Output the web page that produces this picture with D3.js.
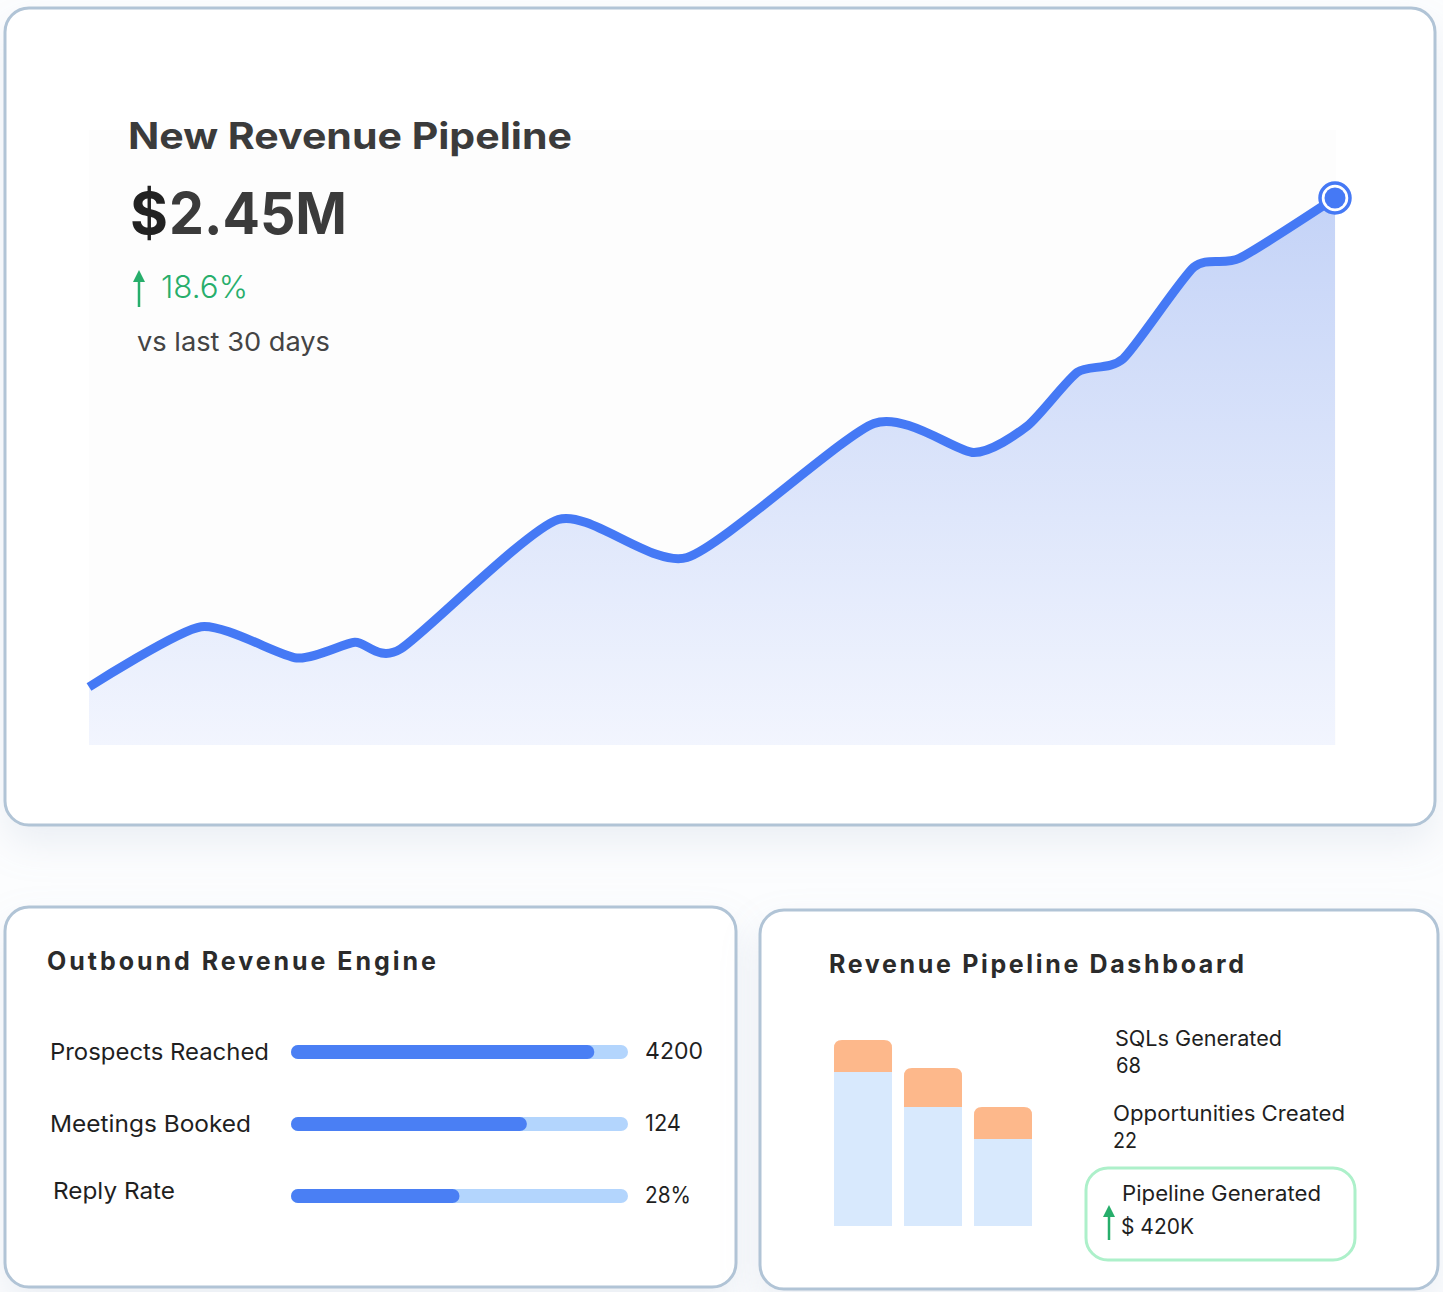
<!DOCTYPE html>
<html>
<head>
<meta charset="utf-8">
<style>
  html, body { margin: 0; padding: 0; background: #ffffff; }
  svg { display: block; font-family: Inter, "Open Sans", "DejaVu Sans", sans-serif; }
</style>
</head>
<body>
<div id="chart"></div>
<script src="https://d3js.org/d3.v7.min.js"></script>
<script>
  // pipeline over the last 30 days ($M)
  const days = [0, 2.7, 5.0, 6.4, 7.5, 11.3, 14.4, 18.9, 21.3, 22.6, 23.8, 24.9, 26.6, 27.7, 30];
  const pipeline = [0.26, 0.53, 0.39, 0.46, 0.43, 1.01, 0.84, 1.44, 1.31, 1.43, 1.67, 1.73, 2.14, 2.18, 2.45];

  // outbound engine
  const engineLabels = ['Prospects Reached', 'Meetings Booked', 'Reply Rate'];
  const engineValues = ['4200', '124', '28%'];
  const engineProgress = [0.9, 0.7, 0.5];

  // funnel bars
  const funnelStages = ['SQLs', 'Opportunities', 'Pipeline'];
  const funnelBase = [77, 59.5, 43.5];
  const funnelTop = [16, 19.5, 16];

  const W = 1443, H = 1292;
  const svg = d3.select('#chart').append('svg')
    .attr('width', W)
    .attr('height', H);

  const defs = svg.append('defs');

  const shadow = defs.append('filter').attr('id', 'shadow')
    .attr('x', '-10%').attr('y', '-10%').attr('width', '120%').attr('height', '130%');
  shadow.append('feDropShadow')
    .attr('dx', 0).attr('dy', 18).attr('stdDeviation', 18)
    .attr('flood-color', '#a8b8cc').attr('flood-opacity', 0.2);

  const grad = defs.append('linearGradient').attr('id', 'areaFill')
    .attr('gradientUnits', 'userSpaceOnUse')
    .attr('x1', 0).attr('y1', 198).attr('x2', 0).attr('y2', 745);
  grad.append('stop').attr('offset', '0%').attr('stop-color', '#c4d3f7');
  grad.append('stop').attr('offset', '100%').attr('stop-color', '#f2f5fe');

  // page tint
  svg.append('rect').attr('width', W).attr('height', H).attr('fill', '#fcfdfe');

  // cards
  const cards = [
    {x: 5, y: 8, w: 1430, h: 817},
    {x: 5, y: 907, w: 731, h: 380},
    {x: 760, y: 910, w: 678, h: 379}
  ];
  svg.selectAll('rect.card').data(cards).join('rect')
    .attr('class', 'card')
    .attr('x', d => d.x).attr('y', d => d.y)
    .attr('width', d => d.w).attr('height', d => d.h)
    .attr('rx', 24)
    .attr('fill', '#ffffff')
    .attr('stroke', '#b1c4d6')
    .attr('stroke-width', 3)
    .attr('filter', 'url(#shadow)');

  // ---------- top chart ----------
  const x = d3.scaleLinear().domain([0, 30]).range([89, 1335]);
  const y = d3.scaleLinear().domain([0, 2.45]).range([745, 198]);
  const pts = days.map((d, i) => [d, pipeline[i]]);

  svg.append('rect')
    .attr('x', 89).attr('y', 130).attr('width', 1247).attr('height', 615)
    .attr('fill', '#fdfdfd');

  const curve = d3.curveCardinal.tension(0.35);
  const area = d3.area()
    .x(d => x(d[0])).y0(745).y1(d => y(d[1]))
    .curve(curve);
  const line = d3.line()
    .x(d => x(d[0])).y(d => y(d[1]))
    .curve(curve);

  svg.append('path').datum(pts)
    .attr('d', area)
    .attr('fill', 'url(#areaFill)');

  svg.append('path').datum(pts)
    .attr('d', line)
    .attr('fill', 'none')
    .attr('stroke', '#4579f5')
    .attr('stroke-width', 9)
    .attr('stroke-linejoin', 'round');

  const last = pts[pts.length - 1];
  svg.append('circle')
    .attr('cx', x(last[0])).attr('cy', y(last[1])).attr('r', 15)
    .attr('fill', '#ffffff').attr('stroke', '#4579f5').attr('stroke-width', 3.5);
  svg.append('circle')
    .attr('cx', x(last[0])).attr('cy', y(last[1])).attr('r', 10.5)
    .attr('fill', '#4579f5');

  // headline texts
  svg.append('text')
    .attr('x', 128).attr('y', 149)
    .attr('font-size', 37).attr('font-weight', 700).attr('fill', '#3b3b3b')
    .attr('textLength', 444).attr('lengthAdjust', 'spacingAndGlyphs')
    .text('New Revenue Pipeline');

  svg.append('text')
    .attr('x', 130).attr('y', 234)
    .attr('font-size', 58).attr('font-weight', 700).attr('fill', '#222222')
    .text('$');
  svg.append('text')
    .attr('x', 169).attr('y', 234)
    .attr('font-size', 58).attr('font-weight', 700).attr('fill', '#3b3b3b')
    .attr('textLength', 178).attr('lengthAdjust', 'spacingAndGlyphs')
    .text('2.45M');

  // green arrow + change
  function upArrow(g, ax, top, bottom) {
    g.append('line')
      .attr('x1', ax).attr('x2', ax).attr('y1', top + 8).attr('y2', bottom)
      .attr('stroke', '#27ae6b').attr('stroke-width', 2.5);
    g.append('path')
      .attr('d', `M${ax - 6},${top + 12} L${ax},${top} L${ax + 6},${top + 12} Z`)
      .attr('fill', '#27ae6b');
  }
  upArrow(svg, 139, 270, 307);
  svg.append('text')
    .attr('x', 161).attr('y', 298)
    .attr('font-size', 31).attr('font-weight', 300).attr('fill', '#27ae6b')
    .attr('textLength', 87).attr('lengthAdjust', 'spacingAndGlyphs')
    .text('18.6%');

  svg.append('text')
    .attr('x', 137).attr('y', 351)
    .attr('font-size', 26).attr('font-weight', 400).attr('fill', '#444444')
    .attr('textLength', 193).attr('lengthAdjust', 'spacingAndGlyphs')
    .text('vs last 30 days');

  // ---------- bottom left ----------
  svg.append('text')
    .attr('x', 47).attr('y', 970)
    .attr('font-size', 25).attr('font-weight', 700).attr('fill', '#2b2b2b')
    .attr('textLength', 389)
    .text('Outbound Revenue Engine');

  const rowY = d3.scalePoint().domain(engineLabels).range([1052, 1196]);
  const prog = d3.scaleLinear().domain([0, 1]).range([291, 628]);
  const labelLen = [219, 201, 122];
  const valueLen = [58, 36, 46];

  const rows = svg.selectAll('g.row').data(engineLabels).join('g').attr('class', 'row');
  rows.append('text')
    .attr('x', (d, i) => i === 2 ? 53 : 50)
    .attr('y', (d, i) => rowY(d) + (i === 2 ? 3 : 8))
    .attr('font-size', 23).attr('fill', '#1f1f1f')
    .attr('textLength', (d, i) => labelLen[i]).attr('lengthAdjust', 'spacingAndGlyphs')
    .text(d => d);
  rows.append('rect')
    .attr('x', prog(0)).attr('y', d => rowY(d) - 7)
    .attr('width', prog(1) - prog(0)).attr('height', 14).attr('rx', 7)
    .attr('fill', '#b3d5fd');
  rows.append('rect')
    .attr('x', prog(0)).attr('y', d => rowY(d) - 7)
    .attr('width', (d, i) => prog(engineProgress[i]) - prog(0)).attr('height', 14).attr('rx', 7)
    .attr('fill', '#4a7ff4');
  rows.append('text')
    .attr('x', 645).attr('y', (d, i) => rowY(d) + 7)
    .attr('font-size', 23).attr('fill', '#1f1f1f')
    .attr('textLength', (d, i) => valueLen[i]).attr('lengthAdjust', 'spacingAndGlyphs')
    .text((d, i) => engineValues[i]);

  // ---------- bottom right ----------
  svg.append('text')
    .attr('x', 829).attr('y', 973)
    .attr('font-size', 25).attr('font-weight', 700).attr('fill', '#2b2b2b')
    .attr('textLength', 415)
    .text('Revenue Pipeline Dashboard');

  const bx = d3.scaleBand().domain(funnelStages).range([834, 1032]).paddingInner(0.171).paddingOuter(0);
  const bh = d3.scaleLinear().domain([0, 100]).range([0, 200]);
  const base = 1226;

  function topRounded(x0, y0, w, h, r) {
    return `M${x0},${y0 + h} L${x0},${y0 + r} Q${x0},${y0} ${x0 + r},${y0} ` +
      `L${x0 + w - r},${y0} Q${x0 + w},${y0} ${x0 + w},${y0 + r} L${x0 + w},${y0 + h} Z`;
  }

  const bars = svg.selectAll('g.bar').data(funnelStages).join('g').attr('class', 'bar');
  bars.append('rect')
    .attr('x', d => bx(d)).attr('width', bx.bandwidth())
    .attr('y', (d, i) => base - bh(funnelBase[i]))
    .attr('height', (d, i) => bh(funnelBase[i]))
    .attr('fill', '#d8e9fd');
  bars.append('path')
    .attr('d', (d, i) => topRounded(bx(d), base - bh(funnelBase[i]) - bh(funnelTop[i]),
      bx.bandwidth(), bh(funnelTop[i]), 8))
    .attr('fill', '#fdb88b');

  const statLines = [
    {t: 'SQLs Generated', x: 1115, y: 1046, len: 167},
    {t: '68', x: 1116, y: 1073, len: 25},
    {t: 'Opportunities Created', x: 1113, y: 1121, len: 232},
    {t: '22', x: 1113, y: 1148, len: 24}
  ];
  svg.selectAll('text.stat').data(statLines).join('text')
    .attr('class', 'stat')
    .attr('x', d => d.x).attr('y', d => d.y)
    .attr('font-size', 21).attr('fill', '#1f1f1f')
    .attr('textLength', d => d.len).attr('lengthAdjust', 'spacingAndGlyphs')
    .text(d => d.t);

  svg.append('rect')
    .attr('x', 1086).attr('y', 1168).attr('width', 269).attr('height', 92).attr('rx', 22)
    .attr('fill', '#ffffff').attr('stroke', '#adf0ca').attr('stroke-width', 3);
  svg.append('text')
    .attr('x', 1122).attr('y', 1201)
    .attr('font-size', 21).attr('fill', '#1f1f1f')
    .attr('textLength', 199).attr('lengthAdjust', 'spacingAndGlyphs')
    .text('Pipeline Generated');
  svg.append('text')
    .attr('x', 1121).attr('y', 1234)
    .attr('font-size', 21).attr('fill', '#1f1f1f')
    .attr('textLength', 73).attr('lengthAdjust', 'spacingAndGlyphs')
    .text('$ 420K');
  upArrow(svg, 1109, 1205, 1240);
</script>
</body>
</html>
